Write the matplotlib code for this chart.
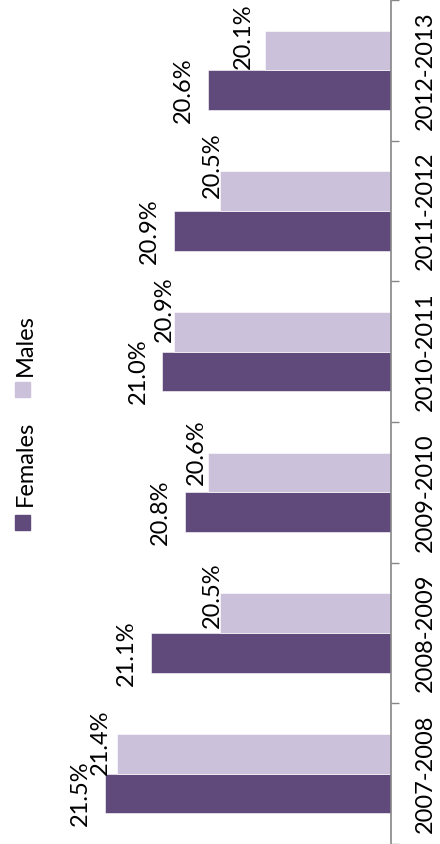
import matplotlib
matplotlib.use("Agg")
import matplotlib.pyplot as plt
from matplotlib.patches import Rectangle
import numpy as np

plt.rcParams['font.family'] = ['Lato', 'DejaVu Sans']

# ---- data ----
categories = ["2007-2008", "2008-2009", "2009-2010", "2010-2011", "2011-2012", "2012-2013"]
females = [21.5, 21.1, 20.8, 21.0, 20.9, 20.6]
males = [21.4, 20.5, 20.6, 20.9, 20.5, 20.1]
series_names = ["Females", "Males"]

# ---- style ----
c_fem = "#604A7B"
c_mal = "#CCC1DA"
axis_gray = "#868686"
base = 19.0
fs = 17

W, H = 440, 844
fig = plt.figure(figsize=(W / 100, H / 100), dpi=100)
ax = fig.add_axes([0, 0, 391 / W, 1])

y = np.arange(len(categories))
bh = 0.2825
fem_vals = np.array(females)
mal_vals = np.array(males)
ax.barh(y - bh / 2, fem_vals - base, left=base, height=bh, color=c_fem,
        edgecolor="white", linewidth=0.4)
ax.barh(y + bh / 2, mal_vals - base, left=base, height=bh, color=c_mal,
        edgecolor="white", linewidth=0.4)

ax.set_xlim(base + 391 / 114.3, base)
ax.set_ylim(-0.4696, 5.491)

# label offsets in pixels (dx: toward right, dy: up)
fem_off = [(-14, 0)] * 6
mal_off = [(-6, 12), (3, 18), (-1, 20), (1, 23), (3, 26), (-11, 14)]

for i, v in enumerate(fem_vals):
    ax.annotate(f"{v:.1f}%", xy=(v, y[i] - bh / 2), xytext=fem_off[i],
                textcoords="offset pixels", rotation=90, ha="right", va="center",
                fontsize=fs, color="black")
for i, v in enumerate(mal_vals):
    ax.annotate(f"{v:.1f}%", xy=(v, y[i] + bh / 2), xytext=mal_off[i],
                textcoords="offset pixels", rotation=90, ha="right", va="center",
                fontsize=fs, color="black")

# axes styling
for s in ["left", "top", "bottom"]:
    ax.spines[s].set_visible(False)
ax.spines["right"].set_color(axis_gray)
ax.spines["right"].set_linewidth(1.2)
ax.xaxis.set_visible(False)
ax.yaxis.tick_right()
ax.set_yticks(np.arange(-0.5, len(categories) + 0.5, 1.0))
ax.set_yticklabels([])
ax.set_yticks(y, minor=True)
ax.set_yticklabels(categories, minor=True, rotation=90, va="center", ha="left",
                   fontsize=fs, color="black")
ax.tick_params(axis="y", which="major", direction="out", length=5.8,
               width=1.0, color=axis_gray)
ax.tick_params(axis="y", which="minor", length=0, pad=17.5)
ax.patch.set_visible(False)

# legend (rotated, drawn manually)
fig.patches.append(Rectangle((15 / W, 1 - 530 / H), 15 / W, 15 / H,
                             transform=fig.transFigure, color=c_fem))
fig.patches.append(Rectangle((15 / W, 1 - 397 / H), 15 / W, 15 / H,
                             transform=fig.transFigure, color=c_mal))
fig.text(25.5 / W, 1 - 506 / H, series_names[0], rotation=90, ha="center",
         va="bottom", fontsize=fs, color="black")
fig.text(25.5 / W, 1 - 376 / H, series_names[1], rotation=90, ha="center",
         va="bottom", fontsize=fs, color="black")

fig.savefig("out.png", dpi=100, facecolor="white")
